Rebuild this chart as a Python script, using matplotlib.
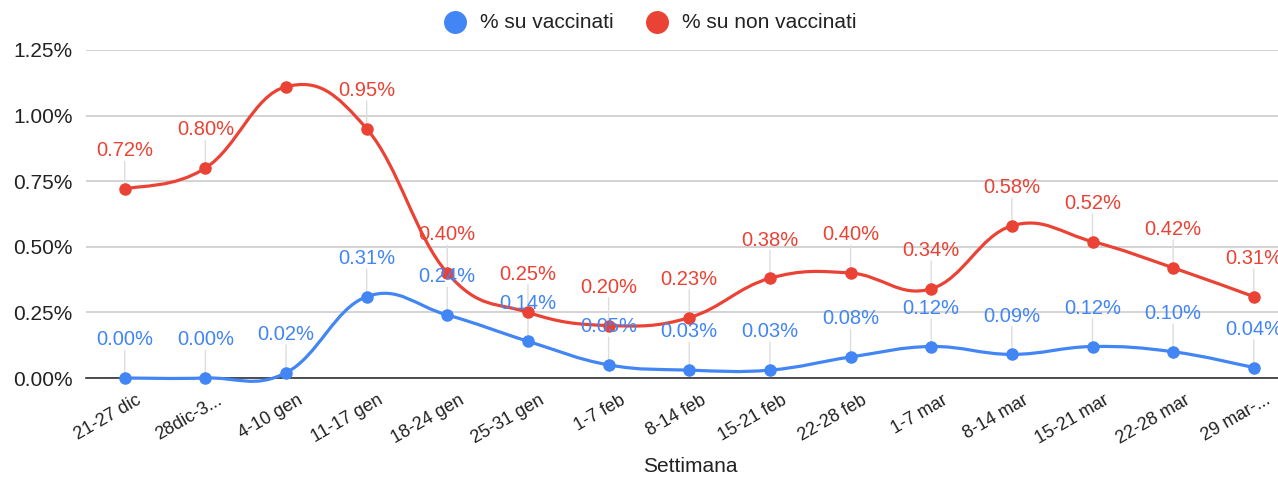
import matplotlib
matplotlib.use("Agg")
import matplotlib.pyplot as plt
import matplotlib.transforms as mtransforms
from matplotlib.path import Path
from matplotlib.patches import PathPatch
from matplotlib.lines import Line2D
import numpy as np

plt.rcParams['font.family'] = ['Liberation Sans', 'DejaVu Sans']

weeks = ["21-27 dic", "28dic-3...", "4-10 gen", "11-17 gen", "18-24 gen",
         "25-31 gen", "1-7 feb", "8-14 feb", "15-21 feb", "22-28 feb",
         "1-7 mar", "8-14 mar", "15-21 mar", "22-28 mar", "29 mar-..."]
vaccinati = [0.00, 0.00, 0.02, 0.31, 0.24, 0.14, 0.05, 0.03, 0.03, 0.08,
             0.12, 0.09, 0.12, 0.10, 0.04]
non_vaccinati = [0.72, 0.80, 1.11, 0.95, 0.40, 0.25, 0.20, 0.23, 0.38, 0.40,
                 0.34, 0.58, 0.52, 0.42, 0.31]
# labels hidden in the original (overlapping the legend)
hidden_non_vacc = [2]
series_names = ["% su vaccinati", "% su non vaccinati"]

BLUE = "#4285F4"
RED = "#EA4335"
TXT = "#222222"


def smooth_path(xs, ys, k=0.2):
    # cubic bezier through the points, control points from neighbour slopes
    xs = np.asarray(xs, float)
    ys = np.asarray(ys, float)
    n = len(xs)
    verts = [(xs[0], ys[0])]
    codes = [Path.MOVETO]
    for i in range(n - 1):
        p0 = i - 1 if i > 0 else i
        p3 = i + 2 if i + 2 < n else i + 1
        c1 = (xs[i] + k * (xs[i + 1] - xs[p0]), ys[i] + k * (ys[i + 1] - ys[p0]))
        c2 = (xs[i + 1] - k * (xs[p3] - xs[i]), ys[i + 1] - k * (ys[p3] - ys[i]))
        verts += [c1, c2, (xs[i + 1], ys[i + 1])]
        codes += [Path.CURVE4] * 3
    return Path(verts, codes)


fig = plt.figure(figsize=(12.78, 4.8), dpi=100)
ax = fig.add_axes([86 / 1278, 1 - 378 / 480, 1 - 86 / 1278, 328 / 480])

x = np.arange(len(weeks))
for vals, color, hidden in [(vaccinati, BLUE, []), (non_vaccinati, RED, hidden_non_vacc)]:
    ax.add_patch(PathPatch(smooth_path(x, vals), facecolor="none", edgecolor=color,
                           lw=2.3, zorder=3, clip_on=False, capstyle="round"))
    ax.plot(x, vals, "o", color=color, markersize=8, zorder=4, clip_on=False)
    for i, v in enumerate(vals):
        if i in hidden:
            continue
        ax.annotate(f"{v:.2f}%", xy=(i, v), xytext=(0, 27.5), textcoords="offset points",
                    ha="center", va="center", color=color, fontsize=14.5, zorder=5,
                    annotation_clip=False)
        ax.annotate("", xy=(i, v), xytext=(0, 20), textcoords="offset points",
                    arrowprops=dict(arrowstyle="-", color="#dddddd", lw=1,
                                    shrinkA=0, shrinkB=0), zorder=2,
                    annotation_clip=False)

ax.set_xlim(-0.48, 14.3)
ax.set_ylim(0, 1.25)
yt = [0, 0.25, 0.5, 0.75, 1.0, 1.25]
ax.set_yticks(yt)
ax.set_yticklabels([f"{t:.2f}%" for t in yt])
ax.set_xticks(x)
ax.set_xticklabels(weeks, rotation=30, ha="right", va="top", rotation_mode="anchor")
ax.tick_params(axis="both", length=0, colors=TXT)
ax.tick_params(axis="y", pad=9.5, labelsize=15)
ax.tick_params(axis="x", pad=10, labelsize=13)
shift = mtransforms.ScaledTranslation(11 / 100, 0, fig.dpi_scale_trans)
for lab in ax.get_xticklabels():
    lab.set_transform(lab.get_transform() + shift)
ax.grid(axis="y", color="#cccccc", lw=1.2)
ax.set_axisbelow(True)
for s in ["top", "right", "left"]:
    ax.spines[s].set_visible(False)
ax.spines["bottom"].set_color("#333333")
ax.spines["bottom"].set_linewidth(1.2)

fig.text(690 / 1278, 1 - 467 / 480, "Settimana", ha="center", va="center",
         fontsize=15, color=TXT)

# legend at the top, drawn in figure pixels
for (cx, tx), name, color in zip([(455, 480), (657, 682)], series_names, [BLUE, RED]):
    fig.add_artist(Line2D([cx / 1278], [1 - 22 / 480], ls="none", marker="o",
                          markersize=15.5, color=color, transform=fig.transFigure))
    fig.text(tx / 1278, 1 - 22 / 480, name, ha="left", va="center",
             fontsize=15, color=TXT)

fig.savefig("out.png", dpi=100)
